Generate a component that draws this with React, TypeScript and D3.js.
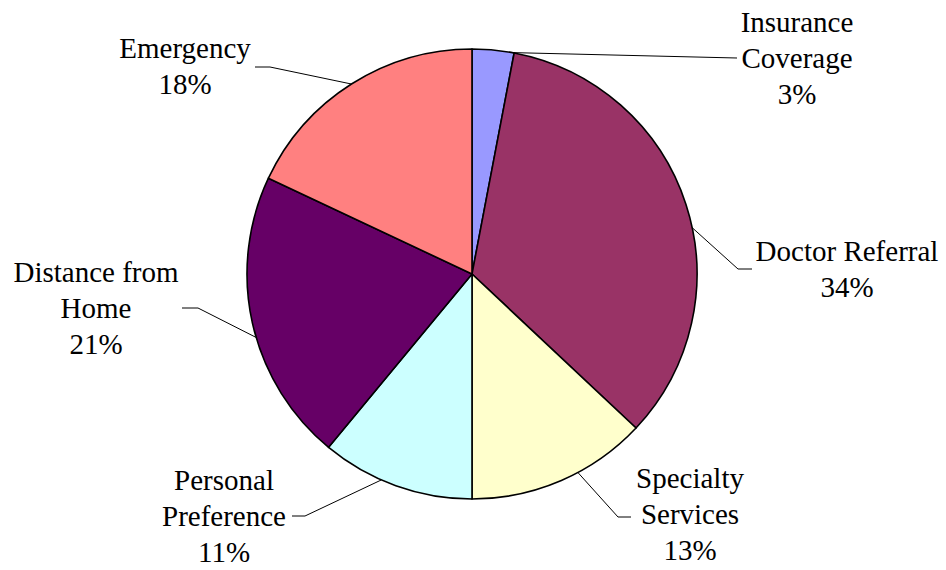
import React from 'react';
import * as d3 from 'd3';

// chart data
const categories = ['Insurance Coverage', 'Doctor Referral', 'Specialty Services', 'Personal Preference', 'Distance from Home', 'Emergency'];
const shares = [3, 34, 13, 11, 21, 18];
const sliceColors = ['#9999FF', '#993366', '#FFFFCC', '#CCFFFF', '#660066', '#FF8080'];
// how each label is broken into lines
const labelLines = [
  ['Insurance', 'Coverage'],
  ['Doctor Referral'],
  ['Specialty', 'Services'],
  ['Personal', 'Preference'],
  ['Distance from', 'Home'],
  ['Emergency'],
];

// label placement (text centre, first baseline, where the leader leaves the slice, elbow and end)
const labelLayout = [
  { x: 797, y: 32, at: 0.95, elbow: [737, 58], end: [737, 58] },
  { x: 847, y: 261, at: 0.55, elbow: [738, 269], end: [752, 269] },
  { x: 690, y: 488, at: 0.4, elbow: [618, 517], end: [631, 517] },
  { x: 224, y: 490, at: 0.6, elbow: [305, 516], end: [292, 516] },
  { x: 96, y: 282, at: 0.45, elbow: [198, 308], end: [182, 308] },
  { x: 185, y: 58, at: 0.5, elbow: [270, 67], end: [255, 67] },
];

const W = 946;
const H = 570;
const cx = 472;
const cy = 274;
const radius = 225;
const lineGap = 36;

export default function App() {
  const pie = d3.pie<number>().sort(null).value((d) => d);
  const arcs = pie(shares);
  const arc = d3.arc<d3.PieArcDatum<number>>().innerRadius(0).outerRadius(radius);
  const total = d3.sum(shares);

  const leaders: React.ReactNode[] = [];
  const texts: React.ReactNode[] = [];
  arcs.forEach((a, i) => {
    const lay = labelLayout[i];
    const ang = a.startAngle + (a.endAngle - a.startAngle) * lay.at;
    const start: [number, number] = [cx + radius * Math.sin(ang), cy - radius * Math.cos(ang)];
    const pts: [number, number][] = [start, lay.elbow as [number, number], lay.end as [number, number]];
    leaders.push(<path key={categories[i]} d={d3.line()(pts) || ''} fill="none" stroke="#000" strokeWidth={1} />);
    const lines = [...labelLines[i], `${Math.round((shares[i] / total) * 100)}%`];
    lines.forEach((t, k) => {
      texts.push(
        <text key={`${i}-${k}`} x={lay.x} y={lay.y + k * lineGap} fontSize={29} textAnchor="middle" style={{ fontFamily: 'Nimbus Roman' }}>
          {t}
        </text>
      );
    });
  });

  return (
    <div style={{ position: 'absolute', left: 0, top: 0, fontFamily: 'Nimbus Roman' }}>
      <svg width={W} height={H} style={{ display: 'block' }}>
        <g transform={`translate(${cx},${cy})`}>
          {arcs.map((a, i) => (
            <path key={categories[i]} d={arc(a) || ''} fill={sliceColors[i]} stroke="#000" strokeWidth={1.6} strokeLinejoin="round" />
          ))}
        </g>
        {leaders}
        {texts}
      </svg>
    </div>
  );
}
